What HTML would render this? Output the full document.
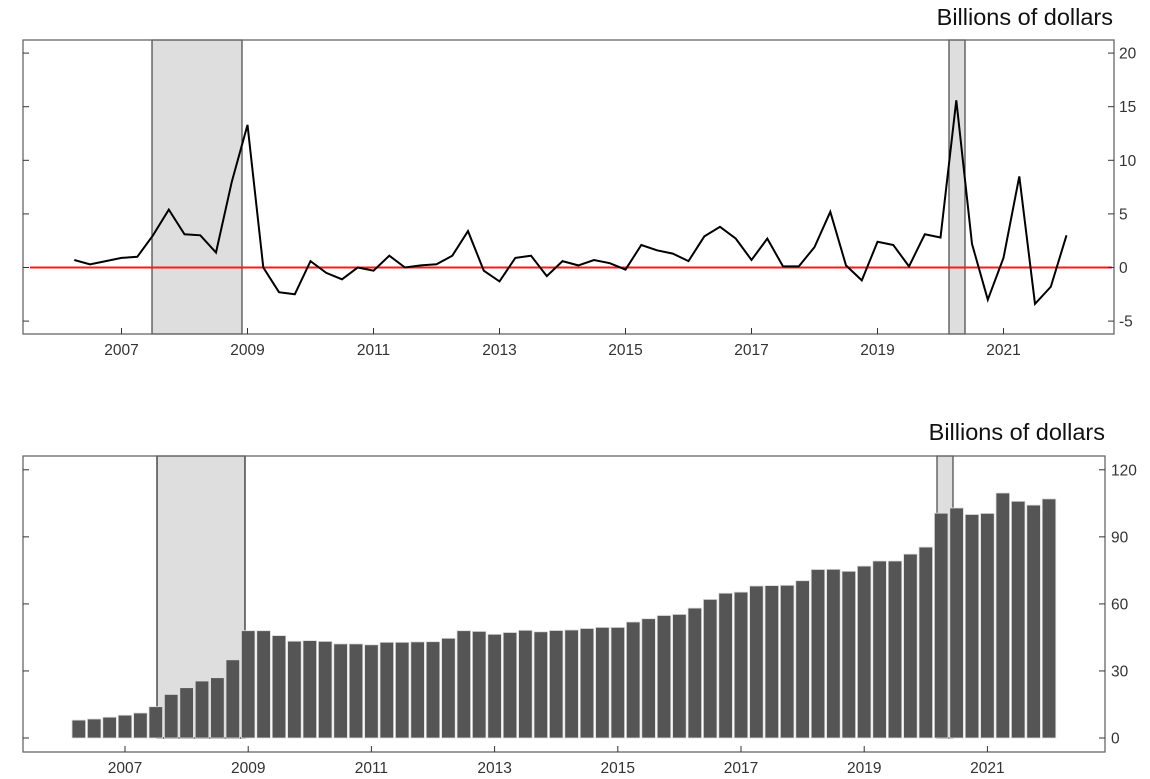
<!DOCTYPE html>
<html><head><meta charset="utf-8"><style>
html,body{margin:0;padding:0;background:#fff;}
svg{display:block;font-family:"Liberation Sans",Arial,sans-serif;}
</style></head><body>
<svg id="s" width="1150" height="779" viewBox="0 0 1150 779" xmlns="http://www.w3.org/2000/svg"></svg>
<script>
const s=document.getElementById('s');let h='';
const line=[0.7,0.3,0.6,0.9,1.0,3.0,5.4,3.1,3.0,1.4,8.0,13.3,0,-2.3,-2.5,0.6,-0.5,-1.1,0,-0.3,1.1,0,0.2,0.3,1.1,3.4,-0.3,-1.3,0.9,1.1,-0.8,0.6,0.2,0.7,0.4,-0.2,2.1,1.6,1.3,0.6,2.9,3.8,2.7,0.7,2.7,0.1,0.1,1.9,5.2,0.2,-1.2,2.4,2.1,0.1,3.1,2.8,15.6,2.2,-3.0,0.9,8.5,-3.4,-1.8,3.0];
const bars=[8,8.5,9.3,10.2,11.2,14,19.5,22.5,25.5,27,35,48,48,45.8,43.3,43.6,43.2,42.1,42.1,41.7,42.8,42.8,43,43.1,44.6,48,47.7,46.4,47.2,48.2,47.5,48.1,48.3,49,49.5,49.5,51.9,53.4,54.8,55.3,58.1,62,64.8,65.3,68,68.2,68.3,70.4,75.4,75.5,74.6,76.9,79.2,79.2,82.3,85.4,100.6,102.9,100,100.5,109.6,105.9,104.2,107];
const FS=15.5;
// top chart
const X1=t=>121.5+(t-2007)*63, Y1=v=>267.5-v*10.72;
h+=`<text x="1113" y="25" font-size="23.5" text-anchor="end" fill="#111">Billions of dollars</text>`;
h+=`<rect x="152" y="40" width="90" height="294" fill="#dedede" stroke="#444" stroke-width="1.2"/>`;
h+=`<rect x="949" y="40" width="16" height="294" fill="#dedede" stroke="#444" stroke-width="1.2"/>`;
h+=`<line x1="30" x2="1112" y1="267.5" y2="267.5" stroke="#ff1a1a" stroke-width="2"/>`;
let p=line.map((v,i)=>X1(2006.25+i*0.25).toFixed(1)+','+Y1(v).toFixed(1)).join(' ');
h+=`<polyline points="${p}" fill="none" stroke="#000" stroke-width="2"/>`;
h+=`<rect x="23" y="40" width="1091" height="294" fill="none" stroke="#666" stroke-width="1.3"/>`;
[20,15,10,5,0,-5].forEach(v=>{const y=Y1(v);
h+=`<line x1="23" x2="29" y1="${y}" y2="${y}" stroke="#333"/><line x1="1108" x2="1114" y1="${y}" y2="${y}" stroke="#333"/>`;
h+=`<text x="1119" y="${y+5.5}" font-size="${FS}" fill="#333">${v}</text>`;});
[2007,2009,2011,2013,2015,2017,2019,2021].forEach(t=>{const x=X1(t);
h+=`<line x1="${x}" x2="${x}" y1="328" y2="334" stroke="#333"/><text x="${x}" y="355" font-size="${FS}" text-anchor="middle" fill="#333">${t}</text>`;});
// bottom chart
const X2=t=>125+(t-2007)*61.6, Y2=v=>738-v*2.235;
h+=`<text x="1105" y="440" font-size="23.5" text-anchor="end" fill="#111">Billions of dollars</text>`;
h+=`<rect x="157" y="456" width="88" height="282" fill="#dedede" stroke="#222" stroke-width="1.2"/>`;
h+=`<rect x="937" y="456" width="16" height="282" fill="#dedede" stroke="#444" stroke-width="1.2"/>`;
bars.forEach((v,i)=>{const c=X2(2006.25+i*0.25);const y=Y2(v);
h+=`<rect x="${(c-6.8).toFixed(1)}" y="${y.toFixed(1)}" width="13.6" height="${(738-y).toFixed(1)}" fill="#555" stroke="#ddd" stroke-width="0.8"/>`;});
h+=`<rect x="23" y="456" width="1082" height="296" fill="none" stroke="#666" stroke-width="1.3"/>`;
[120,90,60,30,0].forEach(v=>{const y=Y2(v);
h+=`<line x1="23" x2="29" y1="${y}" y2="${y}" stroke="#333"/><line x1="1099" x2="1105" y1="${y}" y2="${y}" stroke="#333"/>`;
h+=`<text x="1111" y="${y+5.5}" font-size="${FS}" fill="#333">${v}</text>`;});
[2007,2009,2011,2013,2015,2017,2019,2021].forEach(t=>{const x=X2(t);
h+=`<line x1="${x}" x2="${x}" y1="746" y2="752" stroke="#333"/><text x="${x}" y="773" font-size="${FS}" text-anchor="middle" fill="#333">${t}</text>`;});
s.innerHTML=h;
</script>
</body></html>
